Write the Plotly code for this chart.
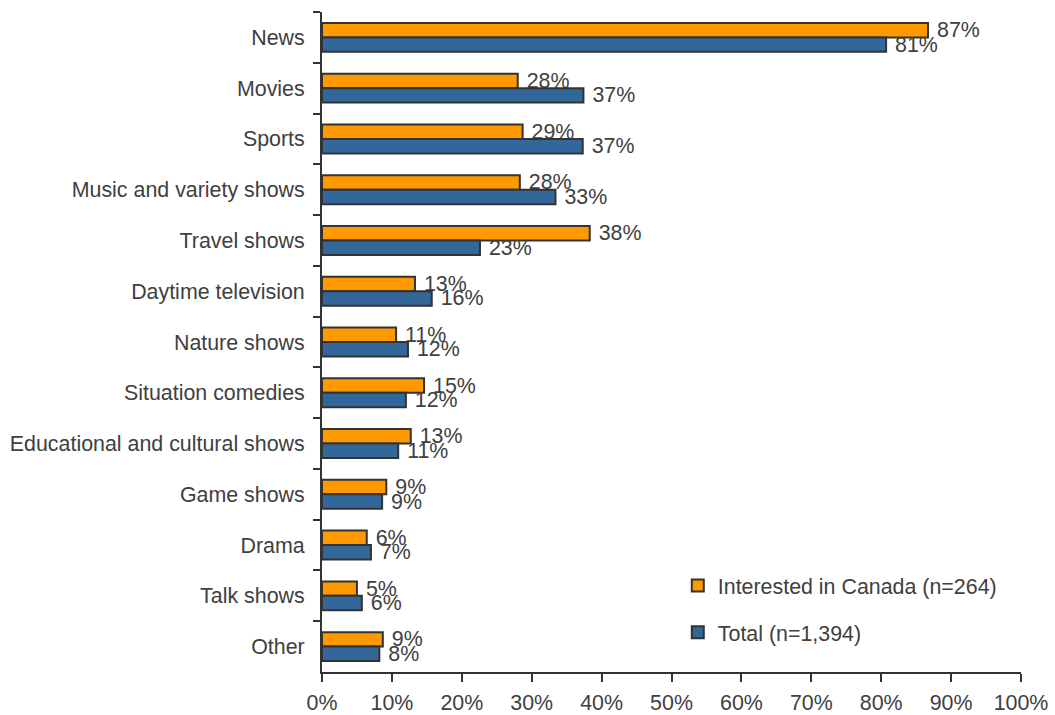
import plotly.graph_objects as go

# Survey categories (top to bottom)
categories = [
    "News", "Movies", "Sports", "Music and variety shows", "Travel shows",
    "Daytime television", "Nature shows", "Situation comedies",
    "Educational and cultural shows", "Game shows", "Drama", "Talk shows", "Other",
]

# Share of respondents (%) per programme type
interested_canada = [86.7, 28.0, 28.7, 28.3, 38.3, 13.3, 10.6, 14.6, 12.7, 9.2, 6.4, 5.0, 8.7]
total = [80.7, 37.4, 37.3, 33.4, 22.6, 15.7, 12.3, 12.0, 10.9, 8.6, 7.0, 5.7, 8.2]

series_names = ["Interested in Canada (n=264)", "Total (n=1,394)"]
x_ticks = list(range(0, 101, 10))
x_tick_labels = [f"{v}%" for v in x_ticks]

FONT = "Liberation Sans, Arial, sans-serif"
FS = 21.4
TXT = "#404040"
EDGE = "#333333"

fig = go.Figure()
for name, vals, color, grp in [
    (series_names[0], interested_canada, "#FF9900", "a"),
    (series_names[1], total, "#336699", "b"),
]:
    fig.add_trace(go.Bar(
        y=categories, x=vals, name=name, orientation="h",
        marker=dict(color=color, line=dict(color=EDGE, width=2)),
        texttemplate=" %{x:.0f}%", textposition="outside",
        textfont=dict(family=FONT, size=FS, color=TXT),
        constraintext="none", cliponaxis=False,
        legendgroup=grp,
    ))

fig.update_layout(
    width=1055, height=715,
    margin=dict(l=322, r=34, t=12, b=43),
    barmode="group", bargap=0.43, bargroupgap=0,
    plot_bgcolor="white", paper_bgcolor="white",
    font=dict(family=FONT, size=FS, color=TXT),
    showlegend=True,
    legend=dict(
        x=0.509, y=0.162, xanchor="left", yanchor="top",
        traceorder="grouped", tracegroupgap=16,
        font=dict(family=FONT, size=FS, color=TXT),
        bgcolor="rgba(0,0,0,0)",
    ),
    xaxis=dict(
        range=[0, 100], tickvals=x_ticks, ticktext=x_tick_labels,
        showgrid=False, zeroline=False, automargin=False,
        showline=True, linecolor=EDGE, linewidth=2,
        ticks="outside", ticklen=8, tickwidth=2, tickcolor=EDGE,
        ticklabelstandoff=2,
        tickfont=dict(family=FONT, size=FS, color=TXT),
    ),
    yaxis=dict(
        autorange="reversed", showgrid=False, zeroline=False, automargin=False,
        showline=True, linecolor=EDGE, linewidth=2,
        ticks="outside", ticklen=7, tickwidth=2, tickcolor=EDGE,
        tickson="boundaries", ticklabelstandoff=11,
        tickfont=dict(family=FONT, size=FS, color=TXT),
    ),
)

fig.write_html("out.html")
